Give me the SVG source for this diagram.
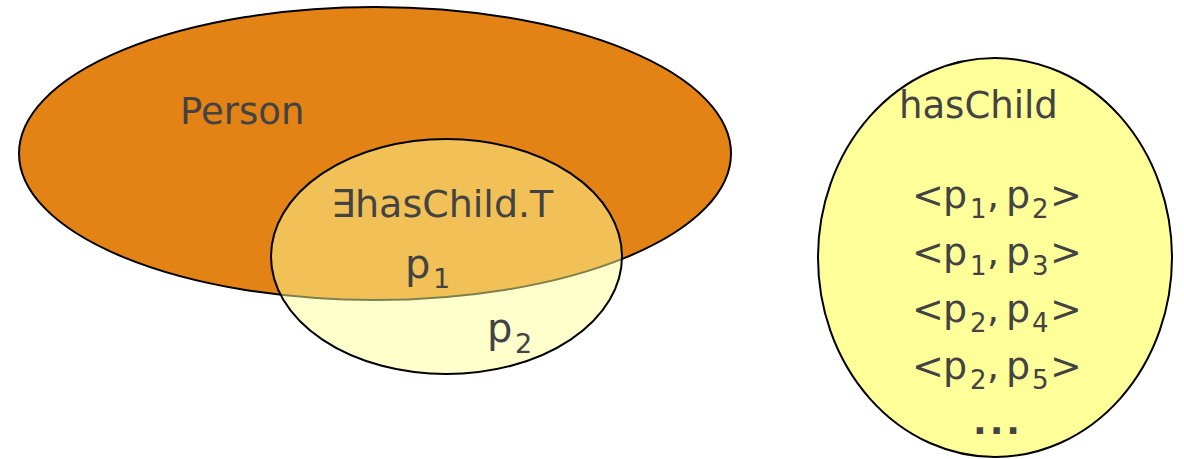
<svg xmlns="http://www.w3.org/2000/svg" width="1184" height="459" viewBox="0 0 1184 459">
  <style>
    .lbl { font-family: "DejaVu Sans", "Liberation Sans", sans-serif; fill: #434343; }
    .set { stroke: #000; stroke-width: 2; }
  </style>
  <rect width="1184" height="459" fill="#fff"/>

  <g id="person">
    <ellipse class="set" cx="375" cy="153.5" rx="356" ry="146.5" fill="#E38215"/>
    <text class="lbl" x="180" y="124" font-size="37">Person</text>
  </g>

  <g id="exists-haschild">
    <ellipse class="set" cx="446.5" cy="256.5" rx="175.5" ry="117.5" fill="#FFFF99" fill-opacity="0.5"/>
    <text class="lbl" x="331" y="217" font-size="38">∃hasChild.T</text>
    <text class="lbl" font-size="40"><tspan x="405" y="278">p</tspan><tspan x="433" y="288" font-size="27">1</tspan></text>
    <text class="lbl" font-size="40"><tspan x="487" y="342">p</tspan><tspan x="515" y="353" font-size="27">2</tspan></text>
  </g>

  <g id="haschild">
    <ellipse class="set" cx="995" cy="257.5" rx="177" ry="199.5" fill="#FFFF99"/>
    <text class="lbl" x="899" y="118" font-size="37">hasChild</text>
    <g font-size="38">
      <text class="lbl"><tspan x="912" y="208">&lt;</tspan><tspan x="943">p</tspan><tspan x="970" y="218" font-size="26">1</tspan><tspan x="987" y="208">,</tspan><tspan x="1006">p</tspan><tspan x="1032" y="218" font-size="26">2</tspan><tspan x="1050" y="208">&gt;</tspan></text>
      <text class="lbl"><tspan x="912" y="265">&lt;</tspan><tspan x="943">p</tspan><tspan x="970" y="275" font-size="26">1</tspan><tspan x="987" y="265">,</tspan><tspan x="1006">p</tspan><tspan x="1032" y="275" font-size="26">3</tspan><tspan x="1050" y="265">&gt;</tspan></text>
      <text class="lbl"><tspan x="912" y="322">&lt;</tspan><tspan x="943">p</tspan><tspan x="970" y="332" font-size="26">2</tspan><tspan x="987" y="322">,</tspan><tspan x="1006">p</tspan><tspan x="1032" y="332" font-size="26">4</tspan><tspan x="1050" y="322">&gt;</tspan></text>
      <text class="lbl"><tspan x="912" y="379">&lt;</tspan><tspan x="943">p</tspan><tspan x="970" y="389" font-size="26">2</tspan><tspan x="987" y="379">,</tspan><tspan x="1006">p</tspan><tspan x="1032" y="389" font-size="26">5</tspan><tspan x="1050" y="379">&gt;</tspan></text>
      <text class="lbl" x="998" y="434" text-anchor="middle" font-size="36" font-weight="bold" letter-spacing="3">...</text>
    </g>
  </g>
</svg>
